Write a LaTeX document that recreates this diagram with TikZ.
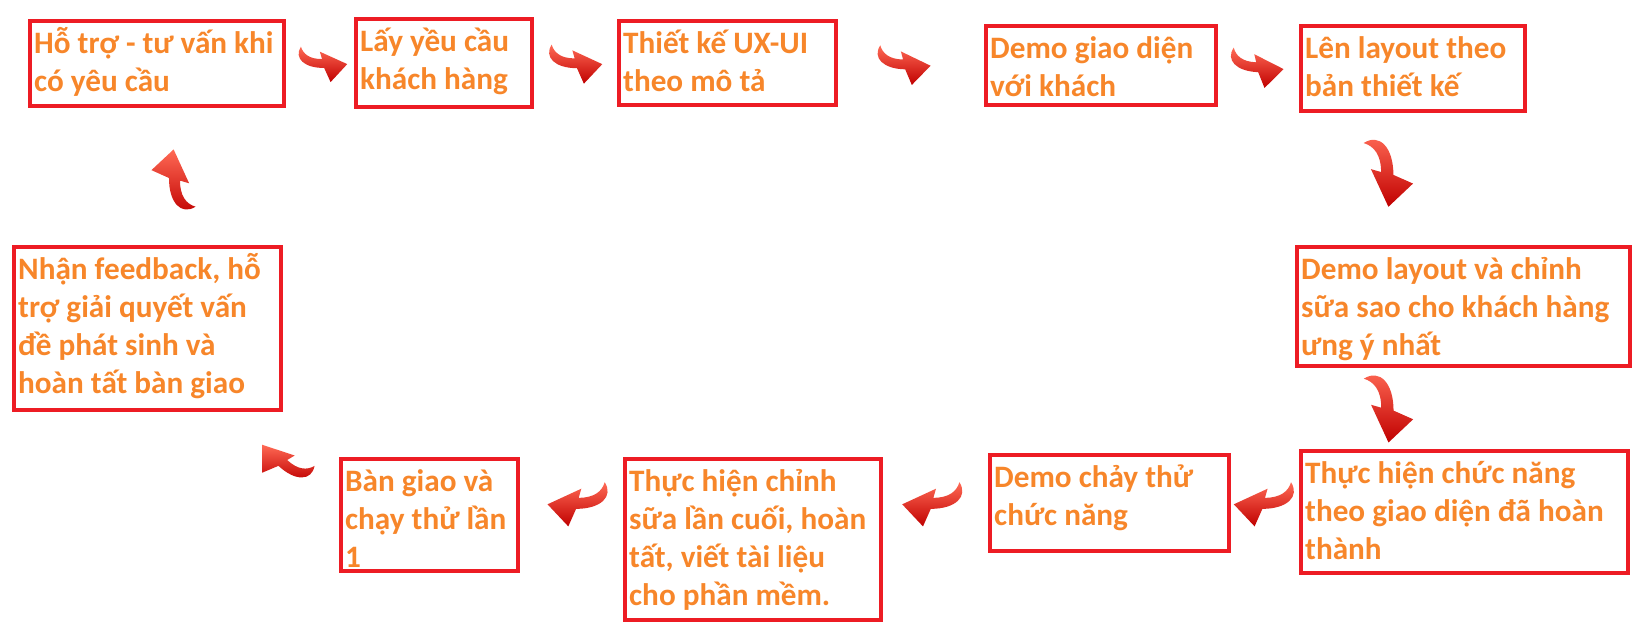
\documentclass[tikz,border=0pt]{standalone}
\usepackage{fontspec}
\setmainfont{Carlito}
\usetikzlibrary{calc}
\definecolor{boxred}{HTML}{ED1C24}
\definecolor{steporange}{HTML}{F7862A}
\definecolor{curldark}{HTML}{C00000}
\definecolor{curllight}{HTML}{FF6A55}
\tikzset{
  stepbox/.style={rectangle, draw=boxred, line width=2.2pt, anchor=north west, align=flush left,
    inner xsep=2pt, inner ysep=0pt, text height=16pt, text=steporange,
    font=\bfseries\fontsize{15.6pt}{19pt}\selectfont},
  curl/.pic={
    \shade[top color=curllight, bottom color=curldark, yscale=#1]
      (-20,-16) .. controls (-27,-5) and (-17,4.5) .. (2,4.5)
      -- (8,18) -- (24,1) -- (-2,-11) -- (0,-4)
      .. controls (-12,-4) and (-18,-9) .. cycle;
  },
  curlpos/.style={sloped, allow upside down}
}
\begin{document}
\begin{tikzpicture}[x=0.5pt, y=-0.5pt]
  \useasboundingbox (0,0) rectangle (1644,633);
  % top row
  \node[stepbox, text width=122.8pt, text depth=26.3pt] (s1) at (28,19) {Hỗ trợ - tư vấn khi\\có yêu cầu};
  \node[stepbox, text width=83.8pt, text depth=27.8pt] (s2) at (354,17) {Lấy yều cầu\\khách hàng};
  \node[stepbox, text width=104.3pt, text depth=25.8pt] (s3) at (617,19) {Thiết kế UX-UI\\theo mô tả};
  \node[stepbox, text width=110.8pt, text depth=23.3pt] (s4) at (984,24) {Demo giao diện\\với khách};
  \node[stepbox, text width=107.8pt, text depth=26.3pt] (s5) at (1299,24) {Lên layout theo\\bản thiết kế};
  % right column
  \node[stepbox, text width=162.3pt, text depth=43.3pt] (s6) at (1295,245) {Demo layout và chỉnh\\sữa sao cho khách hàng\\ưng ý nhất};
  \node[stepbox, text width=159.3pt, text depth=44.8pt] (s7) at (1299,449) {Thực hiện chức năng\\theo giao diện đã hoàn\\thành};
  % bottom row
  \node[stepbox, text width=115.3pt, text depth=31.8pt] (s8) at (988,453) {Demo chảy thử\\chức năng};
  \node[stepbox, text width=123.8pt, text depth=64.3pt] (s9) at (623,457) {Thực hiện chỉnh\\sữa lần cuối, hoàn\\tất, viết tài liệu\\cho phần mềm.};
  \node[stepbox, text width=84.3pt, text depth=39.8pt] (s10) at (339,457) {Bàn giao và\\chạy thử lần\\1};
  % left column
  \node[stepbox, text width=129.3pt, text depth=65.3pt] (s11) at (12,245) {Nhận feedback, hỗ\\trợ giải quyết vấn\\đề phát sinh và\\hoàn tất bàn giao};

  % curled arrows
  \path (s1.east) -- (s2.west) pic[curlpos, pos=.53, scale=1.05] {curl=1};
  \path (s2.east) -- (s3.west) pic[curlpos, pos=.49, scale=1.15] {curl=1};
  \path (s3.east) -- (s4.west) pic[curlpos, pos=.445, scale=1.15] {curl=1};
  \path (s4.east) -- (s5.west) pic[curlpos, pos=.47, scale=1.15] {curl=1};
  \path ($(s5.south west)!.385!(s5.south east)$) -- ($(s6.north west)!.273!(s6.north east)$) pic[curlpos, pos=.447, scale=1.45] {curl=-1};
  \path ($(s6.south west)!.273!(s6.south east)$) -- ($(s7.north west)!.266!(s7.north east)$) pic[curlpos, pos=.49, scale=1.45] {curl=-1};
  \path (s7.west |- s8.east) -- (s8.east) pic[curlpos, pos=.5, scale=1.3] {curl=-1};
  \path (s8.west) -- (s8.west -| s9.east) pic[curlpos, pos=.52, scale=1.3] {curl=-1};
  \path (s9.west |- s8.west) -- (s10.east |- s8.west) pic[curlpos, pos=.43, scale=1.3] {curl=-1};
  \path (s10.west) -- ($(s11.south west)!.8!(s11.south east)$) pic[curlpos, pos=.5, scale=1.2] {curl=-1};
  \path ($(s11.north west)!.6!(s11.north east)$) -- ($(s1.south west)!.57!(s1.south east)$) pic[curlpos, pos=.47, scale=1.3] {curl=-1};
\end{tikzpicture}
\end{document}
